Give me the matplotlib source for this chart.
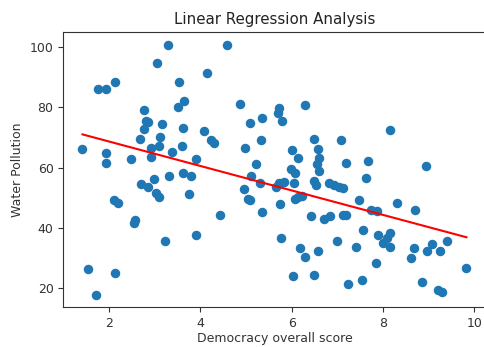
import matplotlib
matplotlib.use("Agg")
import matplotlib.pyplot as plt
import numpy as np

# democracy score vs water pollution, one point per country
democracy = [3.29, 3.06, 4.14, 1.77, 1.93, 2.14, 3.54, 3.65, 3.51, 2.76,
             2.81, 2.86, 2.76, 3.16, 3.62, 4.08, 4.24, 4.31, 2.68, 3.11,
             3.09, 2.91, 3.59, 1.42, 1.93, 3.38, 2.93, 2.49, 3.91, 1.93,
             4.59, 4.86, 5.72, 5.70, 5.78, 6.30, 5.36, 5.08, 5.33, 6.49,
             7.08, 4.98, 6.02, 6.13, 6.58, 6.61, 6.55, 7.19, 5.22, 8.15,
             7.68, 8.95, 2.71, 2.85, 2.99, 3.32, 3.62, 3.79, 3.75, 3.04,
             3.09, 2.11, 2.19, 2.57, 2.55, 3.23, 3.91, 1.55, 2.14, 1.72,
             4.44, 5.12, 5.30, 4.95, 5.04, 5.08, 5.36, 5.73, 5.84, 5.66,
             5.75, 5.99, 6.08, 6.05, 6.08, 6.15, 6.23, 6.50, 6.54, 6.61,
             6.81, 6.93, 7.03, 7.12, 7.48, 6.42, 6.72, 6.85, 7.12, 7.19,
             5.77, 6.19, 6.30, 6.58, 6.99, 7.41, 6.03, 6.50, 7.24, 7.63,
             8.30, 8.70, 7.74, 7.86, 7.57, 7.90, 8.15, 8.10, 8.01, 8.15,
             7.85, 7.54, 8.62, 8.68, 8.97, 9.07, 9.26, 9.40, 8.85, 9.21,
             9.29, 9.83]
pollution = [100.6, 94.6, 91.3, 86.0, 86.0, 88.3, 88.3, 82.0, 80.2, 79.1,
             75.6, 75.2, 72.7, 74.5, 73.2, 72.2, 69.2, 68.3, 69.5, 70.3,
             67.3, 66.4, 67.3, 66.2, 64.8, 65.3, 63.6, 63.0, 62.9, 61.4,
             100.8, 81.1, 79.7, 78.0, 75.5, 80.8, 76.6, 74.9, 69.2, 69.5,
             69.2, 66.5, 65.9, 63.3, 66.2, 63.1, 61.1, 61.4, 61.1, 72.5,
             62.3, 60.7, 54.5, 53.7, 56.2, 57.4, 58.2, 57.4, 51.2, 51.5,
             50.2, 49.3, 48.2, 42.7, 41.6, 35.5, 37.5, 26.4, 25.0, 17.8,
             44.3, 57.4, 54.8, 53.0, 49.5, 49.3, 45.2, 55.0, 55.2, 53.7,
             47.9, 59.5, 58.1, 54.8, 49.6, 50.2, 50.7, 55.6, 54.3, 59.0,
             55.0, 54.3, 53.7, 53.2, 49.3, 43.8, 42.9, 43.8, 44.3, 44.3,
             36.6, 33.3, 30.5, 32.2, 35.8, 33.8, 24.1, 24.5, 21.3, 56.5,
             48.2, 46.0, 46.0, 45.7, 39.4, 37.5, 38.3, 36.6, 35.0, 33.8,
             28.3, 22.6, 30.0, 33.3, 32.2, 34.7, 32.5, 35.5, 22.1, 19.3,
             18.7, 26.7]

x = np.array(democracy)
y = np.array(pollution)

# least squares fit
slope, intercept = np.polyfit(x, y, 1)
x_line = np.array([x.min(), x.max()])
y_line = intercept + slope * x_line

fig = plt.figure(figsize=(4.84, 3.47), dpi=100)
ax = fig.add_axes([63.3 / 484, 1 - 307.3 / 347, (487.0 - 63.3) / 484, (307.3 - 32.3) / 347])

ax.scatter(x, y, s=34, color="#1f77b4")
ax.plot(x_line, y_line, color="red", lw=1.5)

ax.set_xlim(1.0, 10.28)
ax.set_xticks([2, 4, 6, 8, 10])
ax.set_yticks([20, 40, 60, 80, 100])
ax.tick_params(labelsize=9, colors="#333333", labelcolor="#333333")
ax.set_xlabel("Democracy overall score", fontsize=9, color="#333333", labelpad=1.5)
ax.set_ylabel("Water Pollution", fontsize=9, color="#333333")
ax.set_title("Linear Regression Analysis", fontsize=10.8, color="#222222")
for spine in ax.spines.values():
    spine.set_color("#333333")

fig.savefig("out.png", dpi=100)
